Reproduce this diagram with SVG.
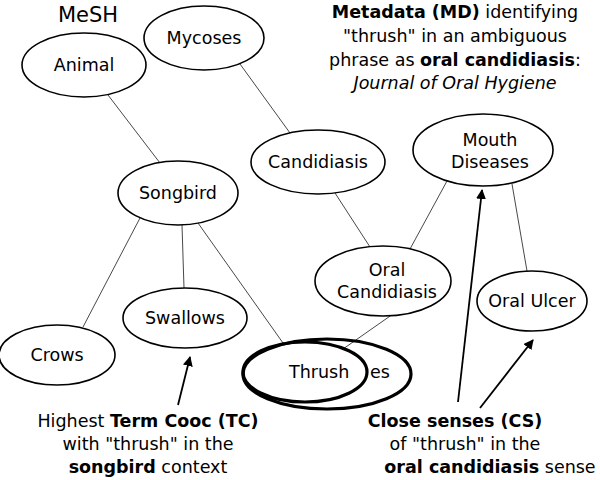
<svg xmlns="http://www.w3.org/2000/svg" width="600" height="480" viewBox="0 0 600 480">
<defs><marker id="ah" markerWidth="10" markerHeight="10" refX="9" refY="5" orient="auto" markerUnits="userSpaceOnUse"><path d="M0,0 L10,5 L0,10 z" fill="#000"/></marker></defs>
<style>
text{font-family:"DejaVu Sans",sans-serif;font-size:17.5px;fill:#000}
.n{fill:#fff;stroke:#000;stroke-width:1.6}
.t{fill:none;stroke:#000;stroke-width:3.2}
.e{stroke:#333;stroke-width:0.9}
.a{stroke:#000;stroke-width:1.8;marker-end:url(#ah)}
.c{text-anchor:middle}
</style>
<rect width="600" height="480" fill="#fff"/>
<text x="58" y="22" style="font-size:21px">MeSH</text>
<g id="connectors">
<line class="e" x1="108" y1="95" x2="160" y2="163"/>
<line class="e" x1="240" y1="64" x2="290" y2="133"/>
<line class="e" x1="335" y1="193" x2="370" y2="247"/>
<line class="e" x1="447" y1="181" x2="410" y2="249"/>
<line class="e" x1="512" y1="184" x2="527" y2="271"/>
<line class="e" x1="140" y1="218" x2="83" y2="327"/>
<line class="e" x1="182" y1="225" x2="184" y2="288"/>
<line class="e" x1="198" y1="223" x2="283" y2="343"/>
<line class="e" x1="393" y1="314" x2="343" y2="349"/>
<line class="a" x1="178" y1="405" x2="190" y2="357"/>
<line class="a" x1="458" y1="402" x2="482" y2="190"/>
<line class="a" x1="480" y1="408" x2="533" y2="340"/>
</g>
<g id="animal"><ellipse class="n" cx="84" cy="65" rx="62" ry="32"/><text class="c" x="84" y="71">Animal</text></g>
<g id="mycoses"><ellipse class="n" cx="204" cy="38" rx="60" ry="32"/><text class="c" x="204" y="44">Mycoses</text></g>
<g id="candidiasis"><ellipse class="n" cx="318" cy="162" rx="67" ry="32"/><text class="c" x="318" y="168">Candidiasis</text></g>
<g id="mouth"><ellipse class="n" cx="483" cy="150" rx="70" ry="36"/><text class="c" x="490" y="146">Mouth</text><text class="c" x="490" y="168">Diseases</text></g>
<g id="songbird"><ellipse class="n" cx="178" cy="193" rx="60" ry="32"/><text class="c" x="178" y="199">Songbird</text></g>
<g id="oralcand"><ellipse class="n" cx="383" cy="281" rx="68" ry="35"/><text class="c" x="387" y="276">Oral</text><text class="c" x="387" y="298">Candidiasis</text></g>
<g id="oralulcer"><ellipse class="n" cx="532" cy="301" rx="55" ry="30"/><text class="c" x="532" y="307">Oral Ulcer</text></g>
<g id="swallows"><ellipse class="n" cx="185" cy="318" rx="62" ry="30"/><text class="c" x="185" y="324">Swallows</text></g>
<g id="crows"><ellipse class="n" cx="57" cy="355" rx="58" ry="30"/><text class="c" x="57" y="361">Crows</text></g>
<g id="thrushes">
<ellipse class="t" cx="327" cy="374" rx="84" ry="35"/>
<ellipse class="t" cx="305" cy="372" rx="62" ry="30"/>
<text x="289" y="378">Thrush</text><text x="370" y="378">es</text>
</g>
<g id="md">
<text class="c" x="455" y="18"><tspan font-weight="bold">Metadata (MD)</tspan> identifying</text>
<text class="c" x="455" y="42">"thrush" in an ambiguous</text>
<text class="c" x="455" y="66">phrase as <tspan font-weight="bold">oral candidiasis</tspan>:</text>
<text class="c" x="455" y="89" font-style="italic">Journal of Oral Hygiene</text>
</g>
<g id="tc">
<text class="c" x="148" y="427">Highest <tspan font-weight="bold">Term Cooc (TC)</tspan></text>
<text class="c" x="148" y="450">with "thrush" in the</text>
<text class="c" x="148" y="473"><tspan font-weight="bold">songbird</tspan> context</text>
</g>
<g id="cs">
<text class="c" x="455" y="427" font-weight="bold">Close senses (CS)</text>
<text class="c" x="465" y="450">of "thrush" in the</text>
<text class="c" x="490" y="473"><tspan font-weight="bold">oral candidiasis</tspan> sense</text>
</g>
</svg>
